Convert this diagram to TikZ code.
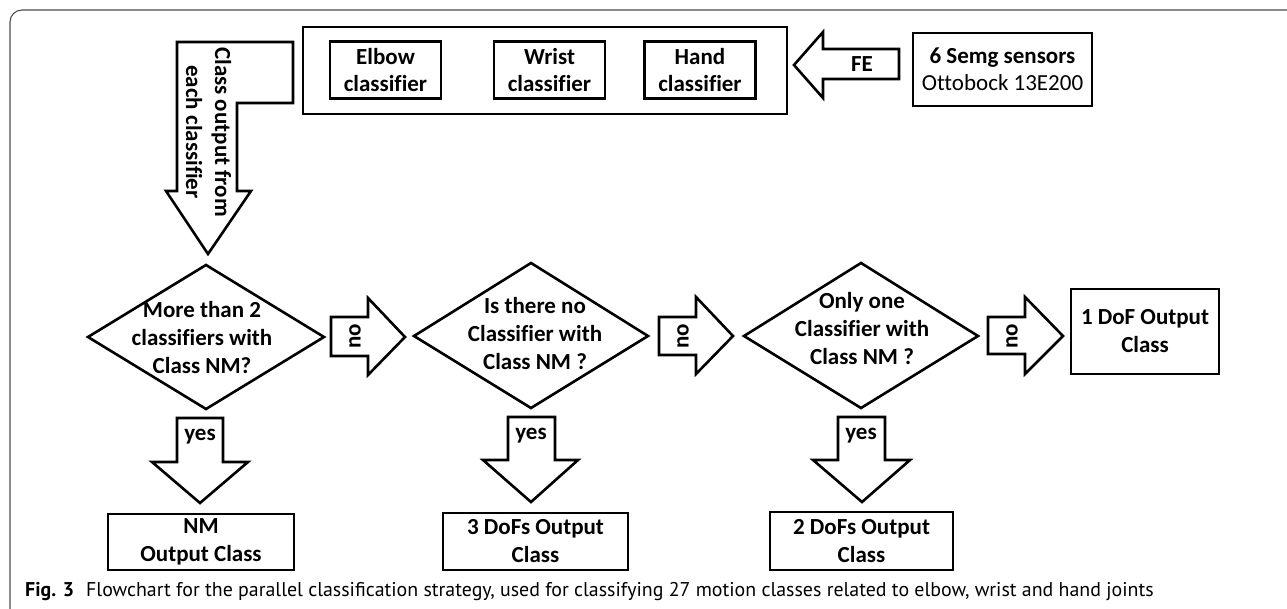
\documentclass[tikz,border=0pt]{standalone}
\usepackage{fontspec}
\setmainfont{Carlito}[Ligatures=NoCommon]
\newfontfamily\capfont{PT Sans}
\begin{document}
\begin{tikzpicture}[x=1pt,y=-1pt,
  lw/.style={line width=2.6pt,line join=miter},
  bx/.style={draw,line width=2.6pt,inner sep=0pt,align=center,
    font=\fontsize{23}{28}\selectfont\bfseries},
  txt/.style={inner sep=0pt,align=center,font=\fontsize{23}{28}\selectfont\bfseries},
  lbl/.style={inner sep=0pt,font=\fontsize{23}{28}\selectfont\bfseries},
  blockarrow/.style={lw,fill=white}
]
\useasboundingbox (0,0) rectangle (1287,609);
% frame
\draw[line width=1.1pt,black!70,rounded corners=12pt] (1287,10) -- (10,10) -- (10,609);

% top container and classifiers
\node[bx,minimum width=484pt,minimum height=87pt] (cont) at (545,70.5) {};
\node[bx,minimum width=111pt,minimum height=57pt,font=\fontsize{23}{27}\selectfont\bfseries] (elbow) at (385.5,70) {Elbow\\classifier};
\node[bx,minimum width=111pt,minimum height=57pt,font=\fontsize{23}{27}\selectfont\bfseries] (wrist) at (549.5,70) {Wrist\\classifier};
\node[bx,minimum width=111pt,minimum height=57pt,font=\fontsize{23}{27}\selectfont\bfseries] (hand) at (700,70) {Hand\\classifier};

% sensors
\node[bx,minimum width=179pt,minimum height=73pt,font=\fontsize{23}{27}\selectfont\bfseries] (sens) at (1002.5,69.5)
  {6 Semg sensors\\\mdseries Ottobock 13E200};

% FE arrow
\draw[blockarrow] (899,49) -- (823,49) -- (823,32) -- (794,65) -- (823,98) -- (823,79) -- (899,79) -- cycle;
\node[lbl] (fe) at (862,64) {FE};

% L-shaped arrow
\draw[blockarrow] (177,42) -- (293,42) -- (293,103) -- (237,103) -- (237,191) -- (251,191)
  -- (208,254) -- (166,191) -- (177,191) -- cycle;
\node[txt,rotate=-90,font=\fontsize{23}{29}\selectfont\bfseries] (clsout) at (208.5,132) {Class output from\\each classifier};

% diamonds
\node[txt] (d1) at (202,338) {More than 2\\classifiers with\\Class NM?};
\draw[lw] (206,265) -- (324,337) -- (206,409) -- (88,337) -- cycle;
\node[txt] (d2) at (535,334) {Is there no\\Classifier with\\Class NM ?};
\draw[lw] (531,263) -- (648,336) -- (531,408) -- (414,336) -- cycle;
\node[txt] (d3) at (862,329) {Only one\\Classifier with\\Class NM ?};
\draw[lw] (861,263) -- (978,336) -- (861,408) -- (744,336) -- cycle;

% no arrows
\draw[blockarrow] (331,317) -- (368,317) -- (368,298) -- (405,337) -- (368,375) -- (368,356) -- (331,356) -- cycle;
\node[lbl,rotate=90] (no1) at (355,336) {no};
\draw[blockarrow] (659,317) -- (696,317) -- (696,297) -- (733,336) -- (696,374) -- (696,355) -- (659,355) -- cycle;
\node[lbl,rotate=90] (no2) at (683,336) {no};
\draw[blockarrow] (988,317) -- (1025,317) -- (1025,297) -- (1063,336) -- (1025,374) -- (1025,354) -- (988,354) -- cycle;
\node[lbl,rotate=90] (no3) at (1012,336) {no};

% 1 DoF box
\node[bx,minimum width=148pt,minimum height=85pt] (dof1) at (1145,331.5) {1 DoF Output\\Class};

% yes arrows
\draw[blockarrow] (177,418) -- (223,418) -- (223,462) -- (248,462) -- (200,503) -- (152,462) -- (177,462) -- cycle;
\node[lbl] (yes1) at (200,437) {yes};
\draw[blockarrow] (508,417) -- (555,417) -- (555,460) -- (578,460) -- (531,502) -- (483,460) -- (508,460) -- cycle;
\node[lbl] (yes2) at (531,436) {yes};
\draw[blockarrow] (838,417) -- (885,417) -- (885,460) -- (910,460) -- (862,502) -- (813,460) -- (838,460) -- cycle;
\node[lbl] (yes3) at (861,436) {yes};

% output boxes
\node[bx,minimum width=186pt,minimum height=56pt] (nm) at (201,542) {NM\\Output Class};
\node[bx,minimum width=185pt,minimum height=57pt] (dof3) at (535.5,541.5) {3 DoFs Output\\Class};
\node[bx,minimum width=183pt,minimum height=58pt] (dof2) at (861.5,541) {2 DoFs Output\\Class};

% caption
\node[anchor=base west,inner sep=0pt,font=\capfont\fontsize{19.9}{22}\selectfont] (cap) at (25,596)
  {\textbf{Fig. 3}\hspace{0.6em}Flowchart for the parallel classification strategy, used for classifying 27 motion classes related to elbow, wrist and hand joints};
\end{tikzpicture}
\end{document}
